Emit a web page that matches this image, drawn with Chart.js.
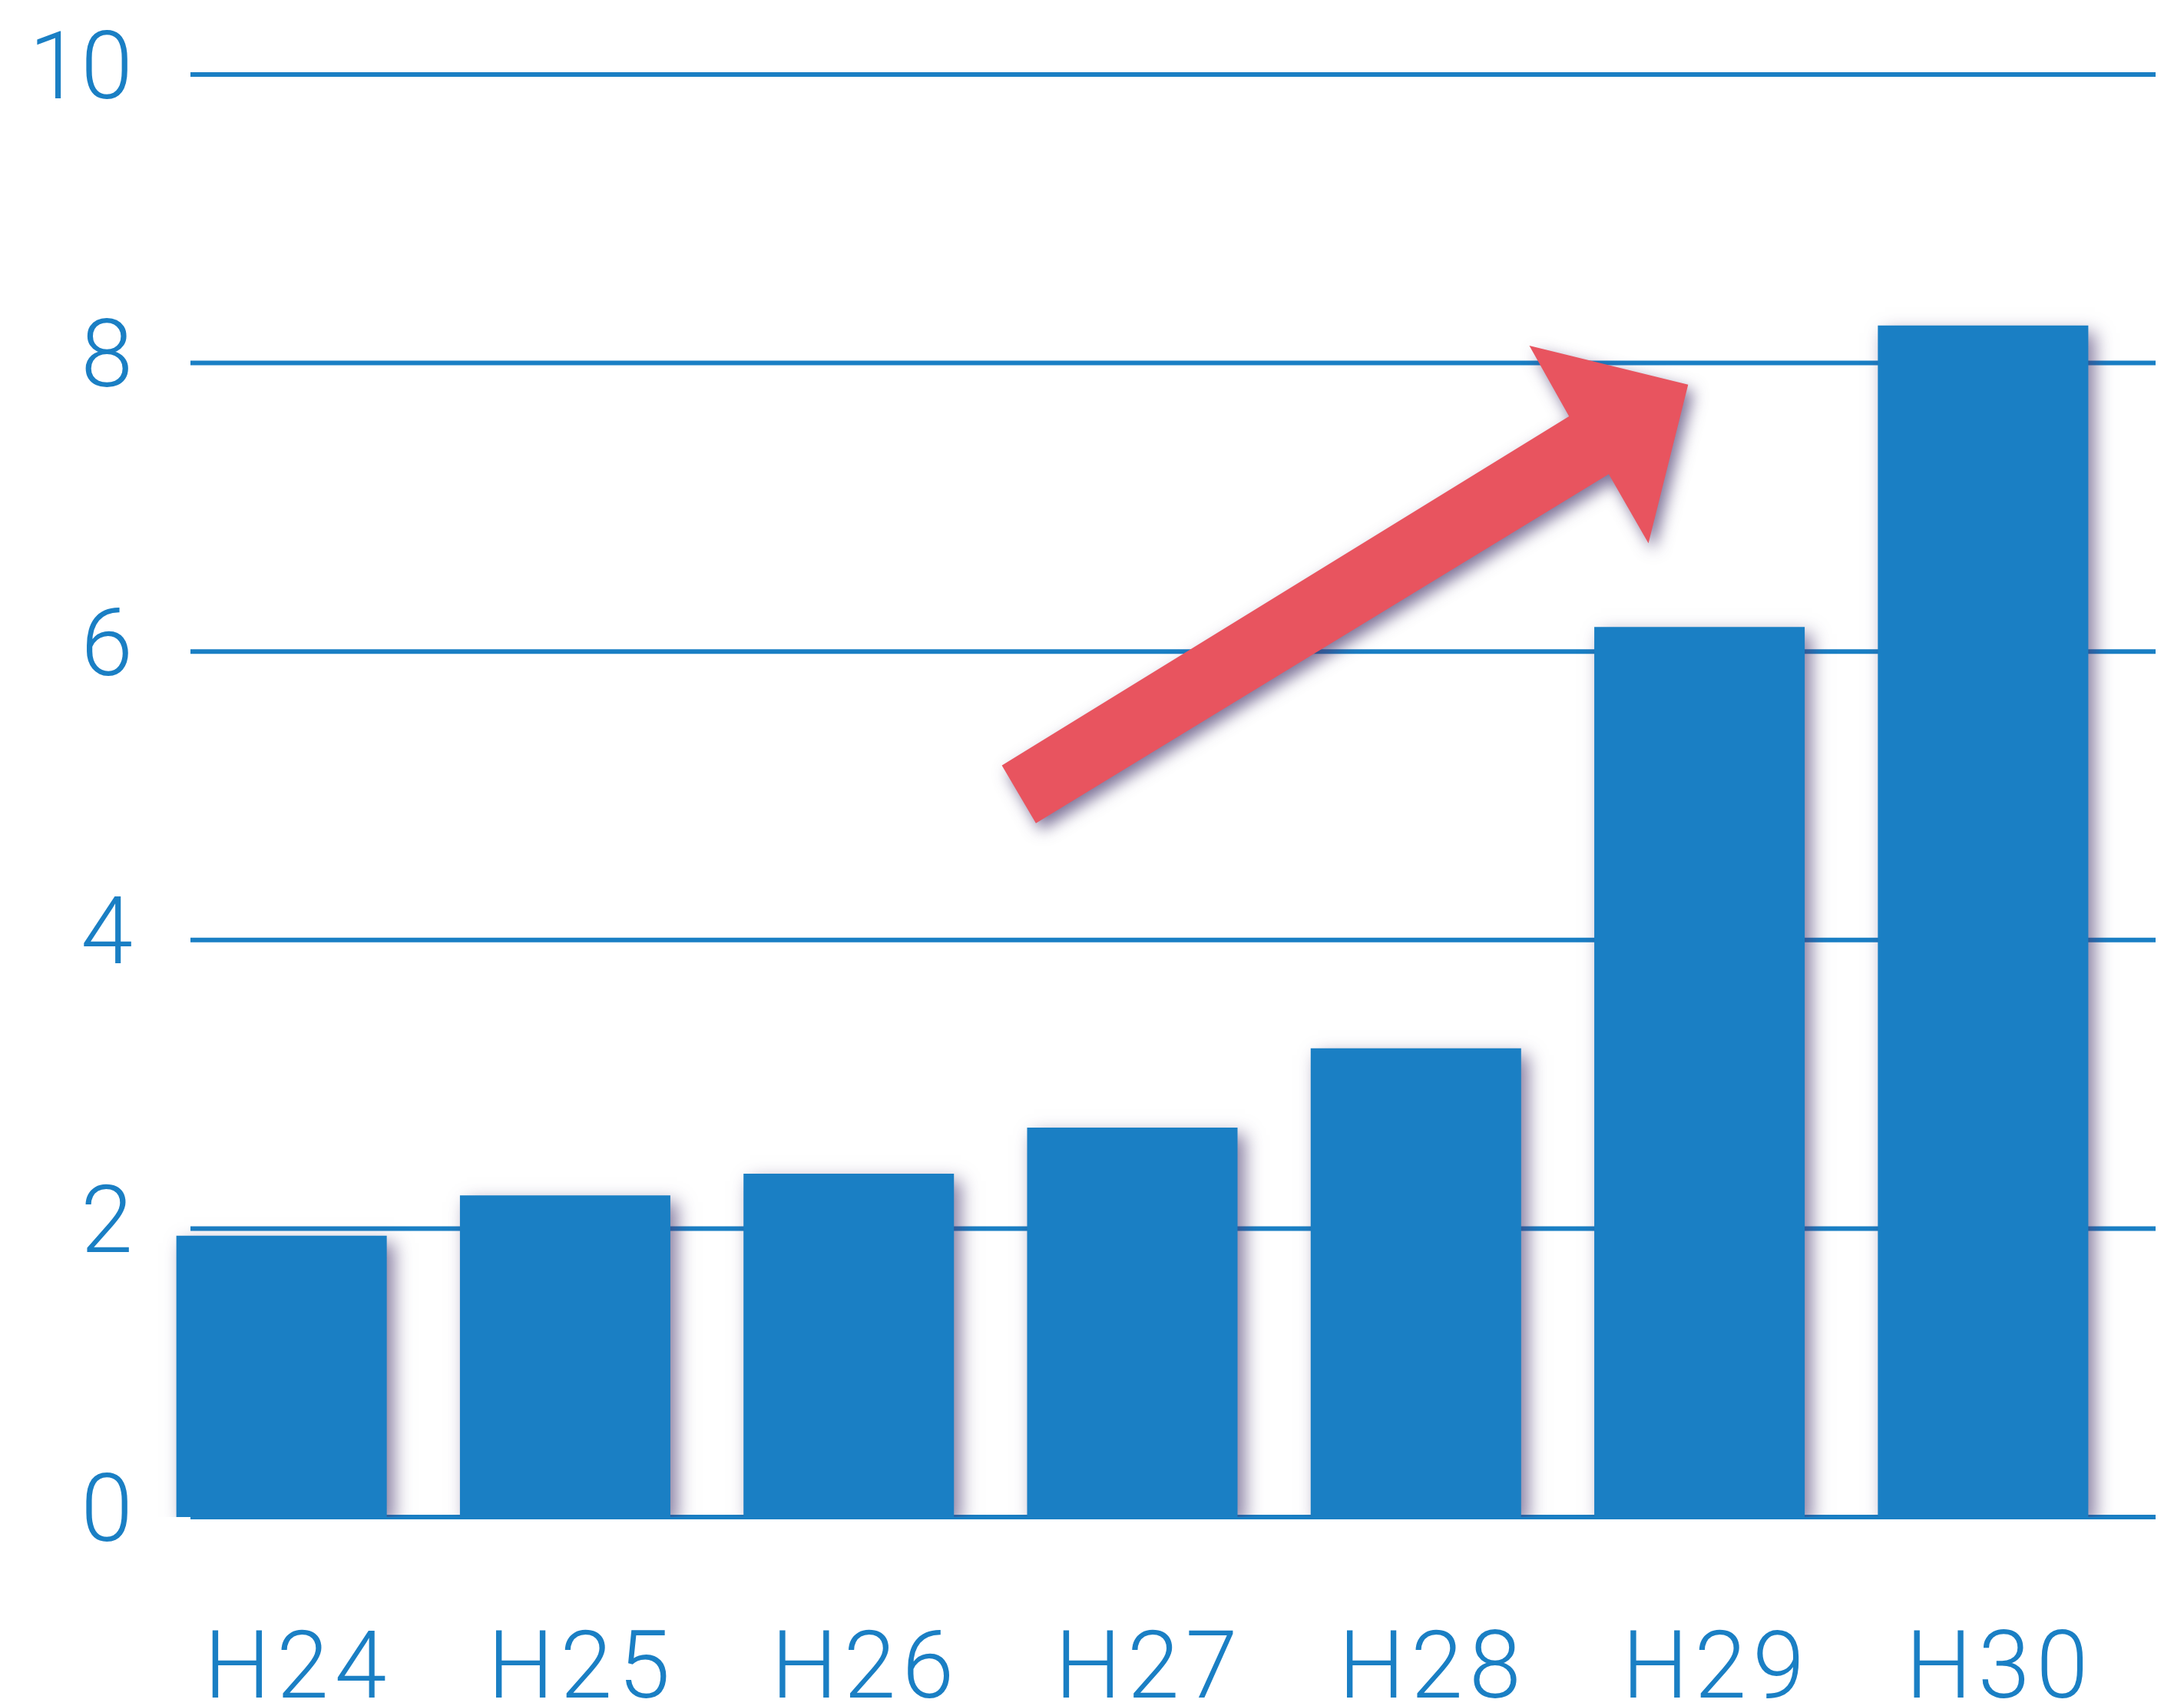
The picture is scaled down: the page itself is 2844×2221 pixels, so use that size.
<!DOCTYPE html>
<html>
<head>
<meta charset="utf-8">
<script src="https://cdn.jsdelivr.net/npm/chart.js@4"></script>
<style>
  html, body { margin: 0; padding: 0; background: #ffffff; }
  #bar-chart { display: block; }
</style>
</head>
<body>
<canvas id="bar-chart" width="2844" height="2221"></canvas>
<script>
const years = ['H24', 'H25', 'H26', 'H27', 'H28', 'H29', 'H30'];
const values = [1.95, 2.23, 2.38, 2.7, 3.25, 6.17, 8.26];
const yTicks = [0, 2, 4, 6, 8, 10];

// arrow outline in chart units: [category index, value]
const arrowX = [2.54, 4.54, 4.40, 4.96, 4.82, 4.68, 2.66];
const arrowY = [5.21, 7.63, 8.12, 7.85, 6.75, 7.23, 4.81];

const blue = '#1a7fc4';
const red = '#e8545f';
const tickFont = { family: 'Roboto, "DejaVu Sans", sans-serif', size: 122, weight: 300 };

const gridLines = {
  id: 'gridLines',
  afterLayout: (chart) => {
    // the original type face is wider than Roboto, space out the year labels
    const sx = chart.scales.x;
    if (sx._spaced) return;
    const drawLabels = sx.drawLabels.bind(sx);
    sx.drawLabels = (area) => {
      chart.ctx.save();
      chart.ctx.letterSpacing = '8px';
      drawLabels(area);
      chart.ctx.restore();
    };
    sx._spaced = true;
  },
  beforeDatasetsDraw: (chart) => {
    const { ctx, chartArea, scales } = chart;
    ctx.save();
    ctx.strokeStyle = blue;
    ctx.lineWidth = 6;
    yTicks.forEach((t) => {
      const y = scales.y.getPixelForValue(t);
      ctx.beginPath();
      ctx.moveTo(chartArea.left + 66, y);
      ctx.lineTo(chartArea.right + 40, y);
      ctx.stroke();
    });
    ctx.restore();
    ctx.save();
    ctx.shadowColor = 'rgba(70, 55, 110, 0.65)';
    ctx.shadowBlur = 22;
    ctx.shadowOffsetX = 9;
    ctx.shadowOffsetY = 9;
  },
  afterDatasetsDraw: (chart) => {
    const { ctx, scales } = chart;
    ctx.restore();
    ctx.save();
    ctx.shadowColor = 'rgba(70, 55, 110, 0.7)';
    ctx.shadowBlur = 20;
    ctx.shadowOffsetX = 7;
    ctx.shadowOffsetY = 9;
    ctx.fillStyle = red;
    ctx.beginPath();
    arrowX.forEach((x, i) => {
      const px = scales.x.getPixelForValue(x);
      const py = scales.y.getPixelForValue(arrowY[i]);
      if (i === 0) ctx.moveTo(px, py);
      else ctx.lineTo(px, py);
    });
    ctx.closePath();
    ctx.fill();
    ctx.restore();
  }
};

new Chart(document.getElementById('bar-chart'), {
  type: 'bar',
  data: {
    labels: years,
    datasets: [{
      data: values,
      backgroundColor: blue,
      borderWidth: 0,
      categoryPercentage: 1,
      barPercentage: 0.742
    }]
  },
  options: {
    responsive: false,
    animation: false,
    devicePixelRatio: 1,
    layout: { padding: { top: 97, right: 77, left: 0, bottom: 0 } },
    plugins: {
      legend: { display: false },
      tooltip: { enabled: false }
    },
    scales: {
      x: {
        grid: { display: false },
        border: { display: false },
        ticks: { color: blue, font: tickFont, padding: 123, labelOffset: 22 },
        afterFit: (scale) => { scale.height = 246; }
      },
      y: {
        min: 0,
        max: 10,
        grid: { display: false },
        border: { display: false },
        ticks: { color: blue, font: tickFont, stepSize: 2, padding: 1 },
        afterFit: (scale) => { scale.width = 182; }
      }
    }
  },
  plugins: [gridLines]
});
</script>
</body>
</html>
